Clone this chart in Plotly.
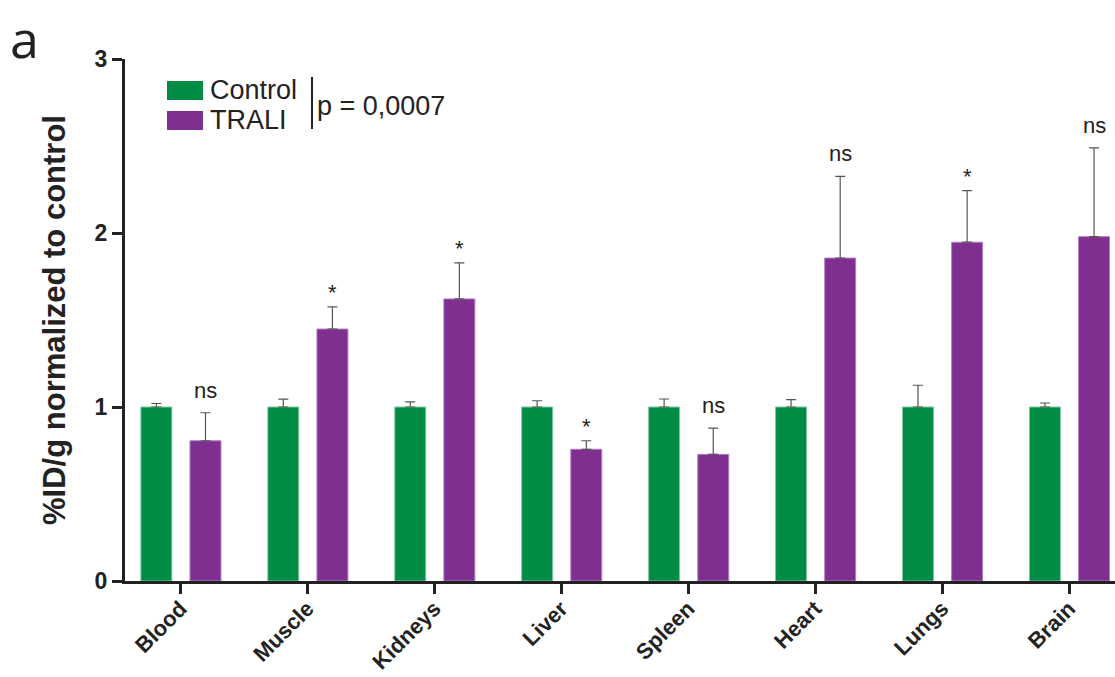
import plotly.graph_objects as go

categories = ["Blood", "Muscle", "Kidneys", "Liver", "Spleen", "Heart", "Lungs", "Brain"]
control = [1.0, 1.0, 1.0, 1.0, 1.0, 1.0, 1.0, 1.0]
control_err = [0.02, 0.045, 0.03, 0.036, 0.046, 0.042, 0.125, 0.023]
trali = [0.806, 1.448, 1.621, 0.757, 0.728, 1.856, 1.947, 1.979]
trali_err = [0.161, 0.127, 0.207, 0.049, 0.151, 0.47, 0.296, 0.51]
signif = ["ns", "*", "*", "*", "ns", "ns", "*", "ns"]
y_ticks = [0, 1, 2, 3]
p_text = "p = 0,0007"

GREEN = "#008c45"
PURPLE = "#7f2f8f"
FONT = "Arial, Liberation Sans, sans-serif"

idx = list(range(len(categories)))
BW = 0.244
OFF_C = -0.19
OFF_T = 0.197


def py(p):
    return (581 - p) / 522


def px(p):
    return (p - 125) / 990


fig = go.Figure()
fig.add_trace(go.Bar(
    x=idx, y=control, name="Control", width=BW, offset=OFF_C - BW / 2,
    marker=dict(color=GREEN, line=dict(color="#7fc8a0", width=1)),
    error_y=dict(type="data", array=control_err, symmetric=False, arrayminus=[0] * len(idx),
                 color="#555555", thickness=1.2, width=5),
    showlegend=False,
))
fig.add_trace(go.Bar(
    x=idx, y=trali, name="TRALI", width=BW, offset=OFF_T - BW / 2,
    marker=dict(color=PURPLE, line=dict(color="#b07fc0", width=1)),
    error_y=dict(type="data", array=trali_err, symmetric=False, arrayminus=[0] * len(idx),
                 color="#555555", thickness=1.2, width=5),
    showlegend=False,
))

for i, s in enumerate(signif):
    fig.add_annotation(
        x=i + OFF_T, y=trali[i] + trali_err[i], text=s, showarrow=False,
        yanchor="bottom", xanchor="center", yshift=8 if s == "ns" else 0,
        font=dict(family=FONT, size=22, color="#222222"),
    )

# Legend drawn manually
fig.add_shape(type="rect", xref="paper", yref="paper",
              x0=px(167), x1=px(203), y0=py(100), y1=py(81),
              fillcolor=GREEN, line=dict(width=0))
fig.add_shape(type="rect", xref="paper", yref="paper",
              x0=px(167), x1=px(203), y0=py(130), y1=py(111),
              fillcolor=PURPLE, line=dict(width=0))
fig.add_annotation(xref="paper", yref="paper", x=px(208), y=py(90),
                   text="Control", showarrow=False, xanchor="left", yanchor="middle",
                   font=dict(family=FONT, size=27, color="#222222"))
fig.add_annotation(xref="paper", yref="paper", x=px(208), y=py(120),
                   text="TRALI", showarrow=False, xanchor="left", yanchor="middle",
                   font=dict(family=FONT, size=27, color="#222222"))
fig.add_shape(type="line", xref="paper", yref="paper",
              x0=px(312), x1=px(312), y0=py(129), y1=py(77),
              line=dict(color="#222222", width=2))
fig.add_annotation(xref="paper", yref="paper", x=px(315), y=py(106),
                   text=p_text, showarrow=False, xanchor="left", yanchor="middle",
                   font=dict(family=FONT, size=27, color="#222222"))

# Panel letter
fig.add_annotation(xref="paper", yref="paper", x=px(8), y=py(0),
                   text="a", showarrow=False, xanchor="left", yanchor="top",
                   font=dict(family="Open Sans, sans-serif", size=52, color="#222222"))

fig.update_layout(
    width=1115, height=677,
    margin=dict(l=125, r=0, t=59, b=96),
    plot_bgcolor="white", paper_bgcolor="white",
    barmode="overlay",
    font=dict(family=FONT, color="#222222"),
    xaxis=dict(
        range=[-0.437, 7.362], tickmode="array", tickvals=idx, ticktext=categories,
        tickangle=-45, ticks="outside", ticklen=10, tickwidth=2.5, tickcolor="#222222",
        showline=True, linecolor="#222222", linewidth=3, showgrid=False, zeroline=False,
        automargin=False, ticklabelstandoff=-7,
        tickfont=dict(family=FONT, size=22, color="#222222", weight="bold"),
    ),
    yaxis=dict(
        range=[0, 3], tickmode="array", tickvals=y_ticks, ticktext=[str(v) for v in y_ticks],
        ticks="outside", ticklen=10, tickwidth=2.5, tickcolor="#222222",
        showline=True, linecolor="#222222", linewidth=3, showgrid=False, zeroline=False,
        automargin=False,
        tickfont=dict(family=FONT, size=23, color="#222222", weight="bold"),
        title=dict(text="%ID/g normalized to control", standoff=20,
                   font=dict(family=FONT, size=31, color="#222222", weight="bold")),
    ),
)

fig.write_html("out.html")
